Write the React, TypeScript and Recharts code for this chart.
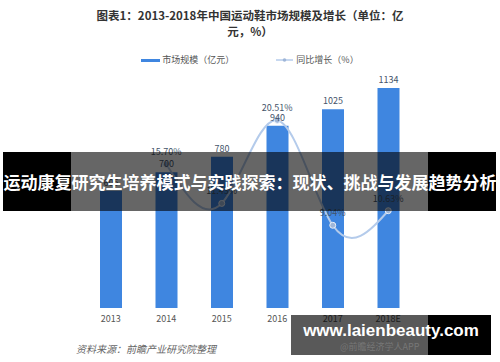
import { ComposedChart, Bar, Line, XAxis, YAxis, LabelList } from 'recharts';

const years = ['2013', '2014', '2015', '2016', '2017', '2018E'];
const marketSize = [605, 700, 780, 940, 1025, 1134];
const growth: (number | null)[] = [null, 15.70, 11.43, 20.51, 9.04, 10.63];

const data = years.map((y, i) => ({
    year: y,
    size: marketSize[i],
    growth: growth[i],
}));

const font = '"Noto Sans CJK SC", "Noto Sans", sans-serif';

export default function App() {
    return <div style={{ position: 'absolute', left: 0, top: 0, width: 500, height: 362, background: '#fff', fontFamily: font, overflow: 'hidden' }}>
        <div style={{ position: 'absolute', top: 7, left: 94, width: 312, textAlign: 'center', fontSize: 11.5, fontWeight: 'bold', color: '#333', lineHeight: '16px' }}>
            图表1：2013-2018年中国运动鞋市场规模及增长（单位：亿元，%）
        </div>
        {/* legend */}
        <div style={{ position: 'absolute', top: 53, left: 0, width: 500, display: 'flex', justifyContent: 'center', alignItems: 'center', fontSize: 9, color: '#555', lineHeight: '14px' }}>
            <span style={{ display: 'inline-block', width: 19, height: 3, background: '#3f86e0', marginRight: 2 }} />
            <span style={{ marginRight: 42 }}>市场规模（亿元）</span>
            <svg width={17} height={6} style={{ marginRight: 3 }}>
                <line x1={0} y1={3} x2={17} y2={3} stroke="#b4cbeb" strokeWidth={1.5} />
                <circle cx={8.5} cy={3} r={1.8} fill="#9fb6d8" />
            </svg>
            <span>同比增长（%）</span>
        </div>
        <ComposedChart
            width={500}
            height={362}
            data={data}
            margin={{ top: 65.5, right: 84, left: 83, bottom: 24 }}
            barSize={22}
        >
            <XAxis dataKey="year" axisLine={false} tickLine={false} tick={{ fontSize: 9, fill: '#555' }} tickMargin={2} />
            <YAxis yAxisId="left" hide domain={[0, 1250]} />
            <YAxis yAxisId="right" hide orientation="right" domain={[0, 26.5]} />
            <Bar yAxisId="left" dataKey="size" fill="#3f86e0" isAnimationActive={false}>
                <LabelList dataKey="size" position="top" offset={5} style={{ fontSize: 9, fill: '#44546a' }} />
            </Bar>
            <Line yAxisId="right" type="natural" dataKey="growth" stroke="#b4cbeb" strokeWidth={2}
                dot={{ r: 3, fill: '#9fb6d8', stroke: '#e6eef9', strokeWidth: 1 }}
                connectNulls={false} isAnimationActive={false}>
                <LabelList dataKey="growth" position="top" offset={9}
                    formatter={(v: any) => (v == null ? '' : `${Number(v).toFixed(2)}%`)}
                    style={{ fontSize: 9, fill: '#44546a' }} />
            </Line>
        </ComposedChart>
        <div style={{ position: 'absolute', top: 341, left: 76, fontSize: 10, fontStyle: 'italic', color: '#666' }}>
            资料来源：前瞻产业研究院整理
        </div>
        {/* overlay banner */}
        <div style={{ position: 'absolute', top: 152, left: 3, width: 68, height: 59, background: '#000' }} />
        <div style={{ position: 'absolute', top: 152, left: 71, width: 357, height: 59, background: 'rgba(0,0,0,0.6)' }} />
        <div style={{ position: 'absolute', top: 152, left: 428, width: 68, height: 59, background: '#000' }} />
        <div style={{ position: 'absolute', top: 152, left: 0, width: 500, height: 59, lineHeight: '59px', textAlign: 'center', color: '#fff', fontSize: 17, fontWeight: 'bold', whiteSpace: 'nowrap' }}>
            运动康复研究生培养模式与实践探索：现状、挑战与发展趋势分析
        </div>
        {/* site watermark */}
        <div style={{ position: 'absolute', top: 315, left: 291, width: 137, height: 40, background: 'rgba(0,0,0,0.65)' }} />
        <div style={{ position: 'absolute', top: 315, left: 428, width: 63, height: 40, background: '#000' }} />
        <div style={{ position: 'absolute', top: 341, left: 340, fontSize: 9, color: '#777', lineHeight: '12px' }}>@前瞻经济学人APP</div>
        <div style={{ position: 'absolute', top: 317, left: 291, width: 200, lineHeight: '28px', textAlign: 'center', color: '#fff', fontSize: 17, fontWeight: 'bold', fontFamily: '"Liberation Sans", sans-serif', whiteSpace: 'nowrap' }}>
            www.laienbeauty.com
        </div>
    </div>;
}
